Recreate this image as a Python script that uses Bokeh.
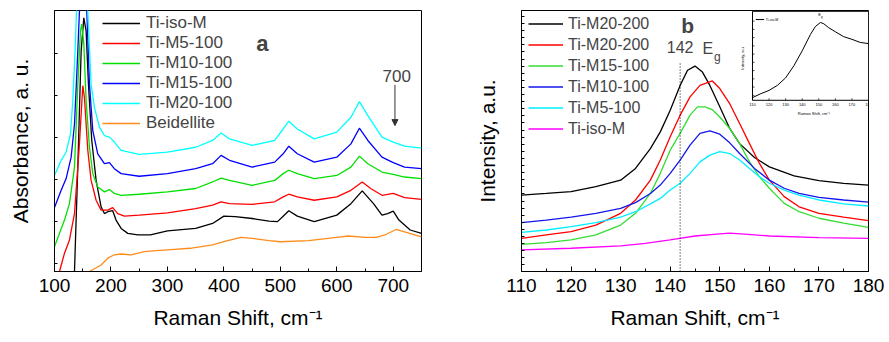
import numpy as np
from bokeh.plotting import figure
from bokeh.layouts import row
from bokeh.models import (Legend, LegendItem, Range1d, FixedTicker, Arrow,
                          NormalHead, Label)
from bokeh.embed import file_html
from bokeh.resources import INLINE
from bokeh.core.properties import value

FONT = "Liberation Sans"

# ---------------- Panel a data (Absorbance, arbitrary units 0-100) ----------------
a_x_ticks = [100, 200, 300, 400, 500, 600, 700]
a_x_labels = ["100", "200", "300", "400", "500", "600", "700"]

a_black_x = [135.4, 141.3, 147.2, 151.9, 156, 160.1, 166, 173.7, 182.5, 188.4, 194.3, 203.1, 209, 218, 229.7, 247.4, 270, 300, 350,
             380, 400, 420, 450, 480, 495, 505, 515, 530, 560, 600, 625, 645, 665, 680, 690, 700, 710, 730, 750]
a_black_y = [0.0, 40.0, 84.5, 97.2, 92.2, 71.8, 50.2, 34.9, 24.8, 22.2, 22.9, 23.3, 19.7, 16.5, 14.6, 14.0, 14.0, 15.6, 16.5,
             18.4, 21.2, 21.0, 20.3, 19.3, 19.1, 21.2, 23.3, 21.2, 19.1, 21.6, 26.0, 30.9, 26.0, 21.6, 22.2, 23.1, 19.7, 15.9, 14.6]

a_red_x = [108.8, 117.7, 126.5, 135.4, 144.2, 150.1, 153, 159, 164.8, 173.7, 182.5, 194.3, 203.1, 212, 223.8, 250, 300, 350,
           380, 395, 410, 450, 490, 505, 515, 530, 560, 600, 625, 645, 660, 680, 700, 720, 750]
a_red_y = [0.0, 7.0, 12.1, 22.2, 48.9, 71.2, 66.7, 46.4, 35.0, 27.3, 23.5, 23.5, 24.5, 22.2, 21.2, 21.6, 22.5, 24.1,
           25.4, 26.7, 26.0, 25.7, 26.7, 28.6, 29.6, 28.6, 27.3, 28.6, 31.1, 34.3, 31.8, 29.2, 29.9, 28.3, 27.6]

a_green_x = [100, 108.8, 117.7, 126.5, 135.4, 141.3, 146, 148.3, 151.9, 156, 161.9, 167.8, 176.6, 188.4, 197.3, 206, 218, 250, 300, 350,
             380, 395, 410, 450, 490, 505, 515, 530, 560, 600, 625, 640, 655, 680, 700, 720, 750]
a_green_y = [9.5, 14.6, 19.7, 26.0, 40.0, 71.8, 92.2, 94.8, 87.2, 65.4, 47.6, 37.5, 32.4, 30.5, 31.4, 29.9, 29.2, 29.6, 30.5, 31.8,
             34.3, 35.8, 34.9, 33.0, 34.9, 37.5, 38.8, 37.5, 35.6, 36.8, 40.0, 44.2, 41.3, 38.1, 37.2, 36.2, 35.6]

a_blue_x = [100, 111.8, 120.6, 129.5, 135.4, 140, 144.2, 150, 157.2, 161.9, 167.8, 176.6, 188.4, 197.3, 206, 218, 250, 300, 350,
            380, 395, 410, 450, 490, 505, 515, 530, 560, 600, 625, 640, 655, 680, 700, 720, 750]
a_blue_y = [24.5, 31.1, 35.6, 43.8, 56.5, 78.1, 99.7, 115.0, 99.7, 71.8, 54.0, 45.1, 41.3, 41.7, 39.4, 37.5, 36.5, 37.5, 39.4,
            41.3, 44.5, 42.6, 40.0, 41.9, 45.1, 48.0, 45.1, 41.9, 43.8, 48.9, 54.9, 50.2, 43.8, 41.7, 40.0, 39.4]

a_cyan_x = [100, 111.8, 120.6, 128.3, 132.4, 136.5, 139, 145, 150, 155, 159, 164.8, 170.7, 179.6, 188.4, 197.3, 206, 218, 250, 300, 350,
            380, 395, 410, 450, 490, 505, 515, 530, 560, 600, 625, 640, 655, 680, 700, 720, 750]
a_cyan_y = [36.8, 42.6, 45.7, 52.7, 65.4, 84.5, 99.7, 125.0, 135.0, 125.0, 99.7, 71.8, 62.9, 55.3, 52.1, 51.5, 49.6, 46.4, 44.9, 45.7, 47.6,
            50.2, 53.1, 50.8, 48.3, 50.2, 54.6, 57.6, 54.6, 50.8, 53.4, 59.1, 65.1, 59.7, 51.5, 49.6, 48.0, 47.3]

a_orange_x = [161.9, 182.5, 194.3, 206, 218, 235.6, 259, 280, 300, 340, 380, 400, 430, 450, 480, 500, 550, 600, 620,
              650, 670, 685, 705, 720, 750]
a_orange_y = [0.0, 2.5, 5.1, 6.4, 6.7, 6.4, 7.6, 8.0, 8.3, 8.9, 10.2, 11.4, 13.1, 12.7, 11.8, 11.4, 11.8, 13.1, 13.6,
              13.1, 13.1, 14.0, 16.1, 15.2, 13.3]

# ---------------- Panel b data (Intensity, arbitrary units 0-100) ----------------
b_x_ticks = [110, 120, 130, 140, 150, 160, 170, 180]
b_x_labels = ["110", "120", "130", "140", "150", "160", "170", "180"]

b_black_x = [110, 115, 120, 125, 130, 133, 136, 138, 140, 142, 143.5, 145, 146.5, 148, 150, 152, 154, 157, 160, 165, 170, 175, 180]
b_black_y = [29.3, 29.9, 30.6, 32.5, 35.0, 39.5, 47.1, 53.5, 61.8, 71.3, 77.1, 78.7, 76.4, 71.3, 63.1, 54.8, 49.0, 43.7, 40.1, 36.6, 34.8, 33.8, 33.1]

b_red_x = [110, 115, 120, 125, 130, 133, 136, 138, 140, 142, 144, 146, 148.5, 150, 152, 154, 156, 158, 160, 163, 166, 170, 175, 180]
b_red_y = [12.7, 14.0, 15.3, 17.8, 22.3, 27.4, 35.0, 42.7, 51.6, 59.9, 66.9, 71.3, 73.0, 70.1, 64.3, 56.7, 49.0, 41.4, 35.0, 28.7, 24.8, 22.3, 20.8, 19.5]

b_green_x = [110, 115, 120, 125, 130, 133, 136, 138, 140, 142, 144, 145.5, 147, 148.5, 150, 152, 154, 156, 158, 160, 163, 166, 170, 175, 180]
b_green_y = [10.4, 11.1, 12.1, 14.0, 17.8, 22.3, 29.9, 37.6, 46.5, 52.9, 59.9, 63.1, 63.1, 62.0, 59.2, 54.8, 49.0, 42.0, 36.3, 31.9, 26.1, 22.9, 20.4, 18.5, 16.9]

b_blue_x = [110, 115, 120, 125, 130, 133, 136, 138, 140, 142, 144, 146, 148, 150, 152, 154, 157, 160, 163, 166, 170, 175, 180]
b_blue_y = [18.7, 19.7, 20.8, 22.3, 24.2, 26.4, 29.9, 33.1, 37.6, 42.7, 48.4, 52.9, 53.9, 52.6, 49.3, 45.2, 39.5, 35.0, 31.9, 29.9, 28.4, 27.4, 26.6]

b_cyan_x = [110, 115, 120, 125, 130, 133, 136, 138, 140, 142, 144, 146, 148, 150, 152, 154, 156, 158, 160, 163, 166, 170, 175, 180]
b_cyan_y = [15.0, 15.9, 17.2, 18.7, 20.8, 22.9, 25.9, 28.0, 31.2, 33.8, 37.6, 42.0, 44.6, 45.9, 45.2, 42.7, 39.5, 36.3, 33.8, 31.2, 29.3, 27.4, 25.9, 25.1]

b_magenta_x = [110, 120, 130, 135, 140, 145, 150, 152, 155, 160, 170, 180]
b_magenta_y = [8.3, 8.9, 9.8, 10.8, 12.1, 13.6, 14.4, 14.7, 14.3, 13.6, 13.0, 12.7]

# inset (Ti-iso-M)
i_x = [110, 115, 120, 125, 130, 135, 140, 145, 148, 151, 153, 156, 160, 165, 170, 175, 180]
i_y = [3.0, 7.4, 11.1, 16.7, 25.2, 38.9, 55.6, 74.1, 83.0, 87.4, 86.0, 81.5, 77.0, 71.5, 68.5, 65.0, 63.7]
i_x_ticks = [110, 120, 130, 140, 150, 160, 170, 180]
i_x_labels = ["110", "120", "130", "140", "150", "160", "170", "180"]

# ---------------- styling helpers ----------------
def style(p, xticks, xminor, xlabels, yticks, ylabel):
    p.xgrid.visible = False
    p.ygrid.visible = False
    p.outline_line_color = "black"
    p.outline_line_alpha = 1
    p.outline_line_width = 1
    p.background_fill_color = "white"
    p.border_fill_color = "white"
    ax = p.xaxis[0]
    ax.ticker = FixedTicker(ticks=xticks, minor_ticks=xminor)
    ax.major_label_overrides = {t: l for t, l in zip(xticks, xlabels)}
    ax.axis_label = "Raman Shift, cm\u207b\u00b9"
    for a in (p.xaxis[0], p.yaxis[0]):
        a.axis_line_color = "black"
        a.major_tick_line_color = "black"
        a.minor_tick_line_color = "black"
        a.major_tick_out = 0
        a.minor_tick_out = 0
        a.axis_label_text_font = FONT
        a.axis_label_text_font_style = "normal"
        a.axis_label_text_font_size = "21px"
        a.axis_label_text_color = "black"
        a.major_label_text_font = FONT
        a.major_label_text_font_size = "19px"
        a.major_label_text_color = "black"
    ax.major_tick_in = 5
    ax.minor_tick_in = 3
    ax.major_label_standoff = 7
    ax.axis_label_standoff = 11
    ay = p.yaxis[0]
    ay.ticker = FixedTicker(ticks=yticks, minor_ticks=[])
    ay.major_label_overrides = {t: "" for t in yticks}
    ay.major_tick_in = 3
    ay.major_label_standoff = 0
    ay.axis_label = ylabel
    ay.axis_label_standoff = 23


# ---------------- Panel a ----------------
p1 = figure(width=438, height=342, x_range=Range1d(100, 750), y_range=Range1d(0, 100),
            output_backend="svg", toolbar_location=None,
            min_border_left=54, min_border_right=17, min_border_top=10, min_border_bottom=71)
a_yticks = [3.2 + 16.05 * k for k in range(6)]
style(p1, a_x_ticks, [150, 250, 350, 450, 550, 650, 750], a_x_labels, a_yticks, "Absorbance, a. u.")

lw = 1.3
r_or = p1.line(a_orange_x, a_orange_y, line_color="#FF8C1A", line_width=lw)
r_bk = p1.line(a_black_x, a_black_y, line_color="black", line_width=lw)
r_rd = p1.line(a_red_x, a_red_y, line_color="#FF0000", line_width=lw)
r_gn = p1.line(a_green_x, a_green_y, line_color="#00E000", line_width=lw)
r_bl = p1.line(a_blue_x, a_blue_y, line_color="#0000FF", line_width=lw)
r_cy = p1.line(a_cyan_x, a_cyan_y, line_color="#00FFFF", line_width=lw)

leg1 = Legend(items=[LegendItem(label="Ti-iso-M", renderers=[r_bk]),
                     LegendItem(label="Ti-M5-100", renderers=[r_rd]),
                     LegendItem(label="Ti-M10-100", renderers=[r_gn]),
                     LegendItem(label="Ti-M15-100", renderers=[r_bl]),
                     LegendItem(label="Ti-M20-100", renderers=[r_cy]),
                     LegendItem(label="Beidellite", renderers=[r_or])],
              location=(48, 138), padding=0, margin=0, spacing=0,
              glyph_width=38, glyph_height=20, label_height=20, label_standoff=6,
              label_text_font=FONT, label_text_font_size="17px",
              background_fill_alpha=0, border_line_alpha=0)
p1.add_layout(leg1)

p1.add_layout(Label(x=468, y=87.5, text="a", text_font=FONT, text_font_size="22px",
                    text_font_style="bold", text_align="center", text_baseline="middle"))
p1.add_layout(Label(x=706, y=75, text="700", text_font=FONT, text_font_size="17px",
                    text_align="center", text_baseline="middle"))
p1.add_layout(Arrow(end=NormalHead(size=6, fill_color="#333333", line_color="#333333"),
                    x_start=703, y_start=71.5, x_end=703, y_end=55.9,
                    line_color="#333333", line_width=1))

# ---------------- Panel b ----------------
p2 = figure(width=451, height=342, x_range=Range1d(110, 180), y_range=Range1d(0, 100),
            output_backend="svg", toolbar_location=None,
            min_border_left=83, min_border_right=21, min_border_top=10, min_border_bottom=71)
b_yticks = [2.5 + 2.72 * k for k in range(36)]
style(p2, b_x_ticks, [115, 125, 135, 145, 155, 165, 175], b_x_labels, b_yticks, "Intensity, a.u.")

s_bk = p2.line(b_black_x, b_black_y, line_color="black", line_width=lw)
s_rd = p2.line(b_red_x, b_red_y, line_color="#FF0000", line_width=lw)
s_gn = p2.line(b_green_x, b_green_y, line_color="#33DD33", line_width=lw)
s_bl = p2.line(b_blue_x, b_blue_y, line_color="#1515EE", line_width=lw)
s_cy = p2.line(b_cyan_x, b_cyan_y, line_color="#00EEFF", line_width=lw)
s_mg = p2.line(b_magenta_x, b_magenta_y, line_color="#FF00FF", line_width=lw)

leg2 = Legend(items=[LegendItem(label="Ti-M20-200", renderers=[s_bk]),
                     LegendItem(label="Ti-M20-200", renderers=[s_rd]),
                     LegendItem(label="Ti-M15-100", renderers=[s_gn]),
                     LegendItem(label="Ti-M10-100", renderers=[s_bl]),
                     LegendItem(label="Ti-M5-100", renderers=[s_cy]),
                     LegendItem(label="Ti-iso-M", renderers=[s_mg])],
              location=(7, 132), padding=0, margin=0, spacing=0,
              glyph_width=35, glyph_height=21, label_height=21, label_standoff=5,
              label_text_font=FONT, label_text_font_size="16px",
              background_fill_alpha=0, border_line_alpha=0)
p2.add_layout(leg2)

# dotted marker at 142
p2.segment(x0=[142], y0=[0], x1=[142], y1=[80.3], line_color="black", line_width=1, line_dash="1 2")
p2.add_layout(Label(x=143.5, y=94.3, text="b", text_font=FONT, text_font_size="21px",
                    text_font_style="bold", text_align="center", text_baseline="middle"))
p2.add_layout(Label(x=142, y=86, text="142", text_font=FONT, text_font_size="16px",
                    text_align="center", text_baseline="middle"))
p2.add_layout(Label(x=147.6, y=85.5, text="E", text_font=FONT, text_font_size="16px",
                    text_align="center", text_baseline="middle"))
p2.add_layout(Label(x=149.5, y=82, text="g", text_font=FONT, text_font_size="12px",
                    text_align="center", text_baseline="middle"))

# ---------------- inset (drawn in extra ranges mapped to the top-right corner) ----------------
fx0, fx1 = 0.6657, 1.0    # inset frame fraction of main frame (x)
fy0, fy1 = 0.656, 0.997   # inset frame fraction of main frame (y)
ixs = 70 / (fx1 - fx0)
iys = 100 / (fy1 - fy0)
p2.extra_x_ranges = {"ix": Range1d(110 - fx0 * ixs, 110 - fx0 * ixs + ixs)}
p2.extra_y_ranges = {"iy": Range1d(0 - fy0 * iys, 0 - fy0 * iys + iys)}
ik = dict(x_range_name="ix", y_range_name="iy")
p2.quad(left=[110], right=[180], bottom=[0], top=[100], fill_color="white",
        line_color="black", line_width=1, **ik)
p2.line(i_x, i_y, line_color="black", line_width=1, **ik)
# ticks
p2.segment(x0=i_x_ticks, y0=[0] * 8, x1=i_x_ticks, y1=[2.2] * 8, line_color="black", line_width=0.7, **ik)
i_y_ticks = [5.6 + 9.26 * k for k in range(10)]
p2.segment(x0=[110] * 10, y0=i_y_ticks, x1=[111.2] * 10, y1=i_y_ticks, line_color="black", line_width=0.7, **ik)
p2.text(x=i_x_ticks, y=[-3] * 8, text=i_x_labels, text_font=value(FONT), text_font_size="4px",
        text_align="center", text_baseline="top", **ik)
p2.text(x=[147], y=[-15], text=["Raman Shift, cm\u207b\u00b9"], text_font=value(FONT), text_font_size="4px",
        text_align="center", text_baseline="middle", **ik)
p2.text(x=[104], y=[47], text=["Intensity, a.u"], angle=np.pi / 2, text_font=value(FONT),
        text_font_size="4px", text_align="center", text_baseline="middle", **ik)
p2.segment(x0=[112], y0=[90.7], x1=[117], y1=[90.7], line_color="black", line_width=1, **ik)
p2.text(x=[118], y=[90.7], text=["Ti-iso-M"], text_font=value(FONT), text_font_size="3.5px",
        text_align="left", text_baseline="middle", **ik)
p2.text(x=[150.5], y=[96.5], text=["E"], text_font=value(FONT), text_font_size="4px",
        text_align="center", text_baseline="middle", **ik)
p2.text(x=[151.8], y=[94.5], text=["g"], text_font=value(FONT), text_font_size="3px",
        text_align="center", text_baseline="middle", **ik)

layout = row(p1, p2)
open("out.html", "w").write(file_html(layout, INLINE))
